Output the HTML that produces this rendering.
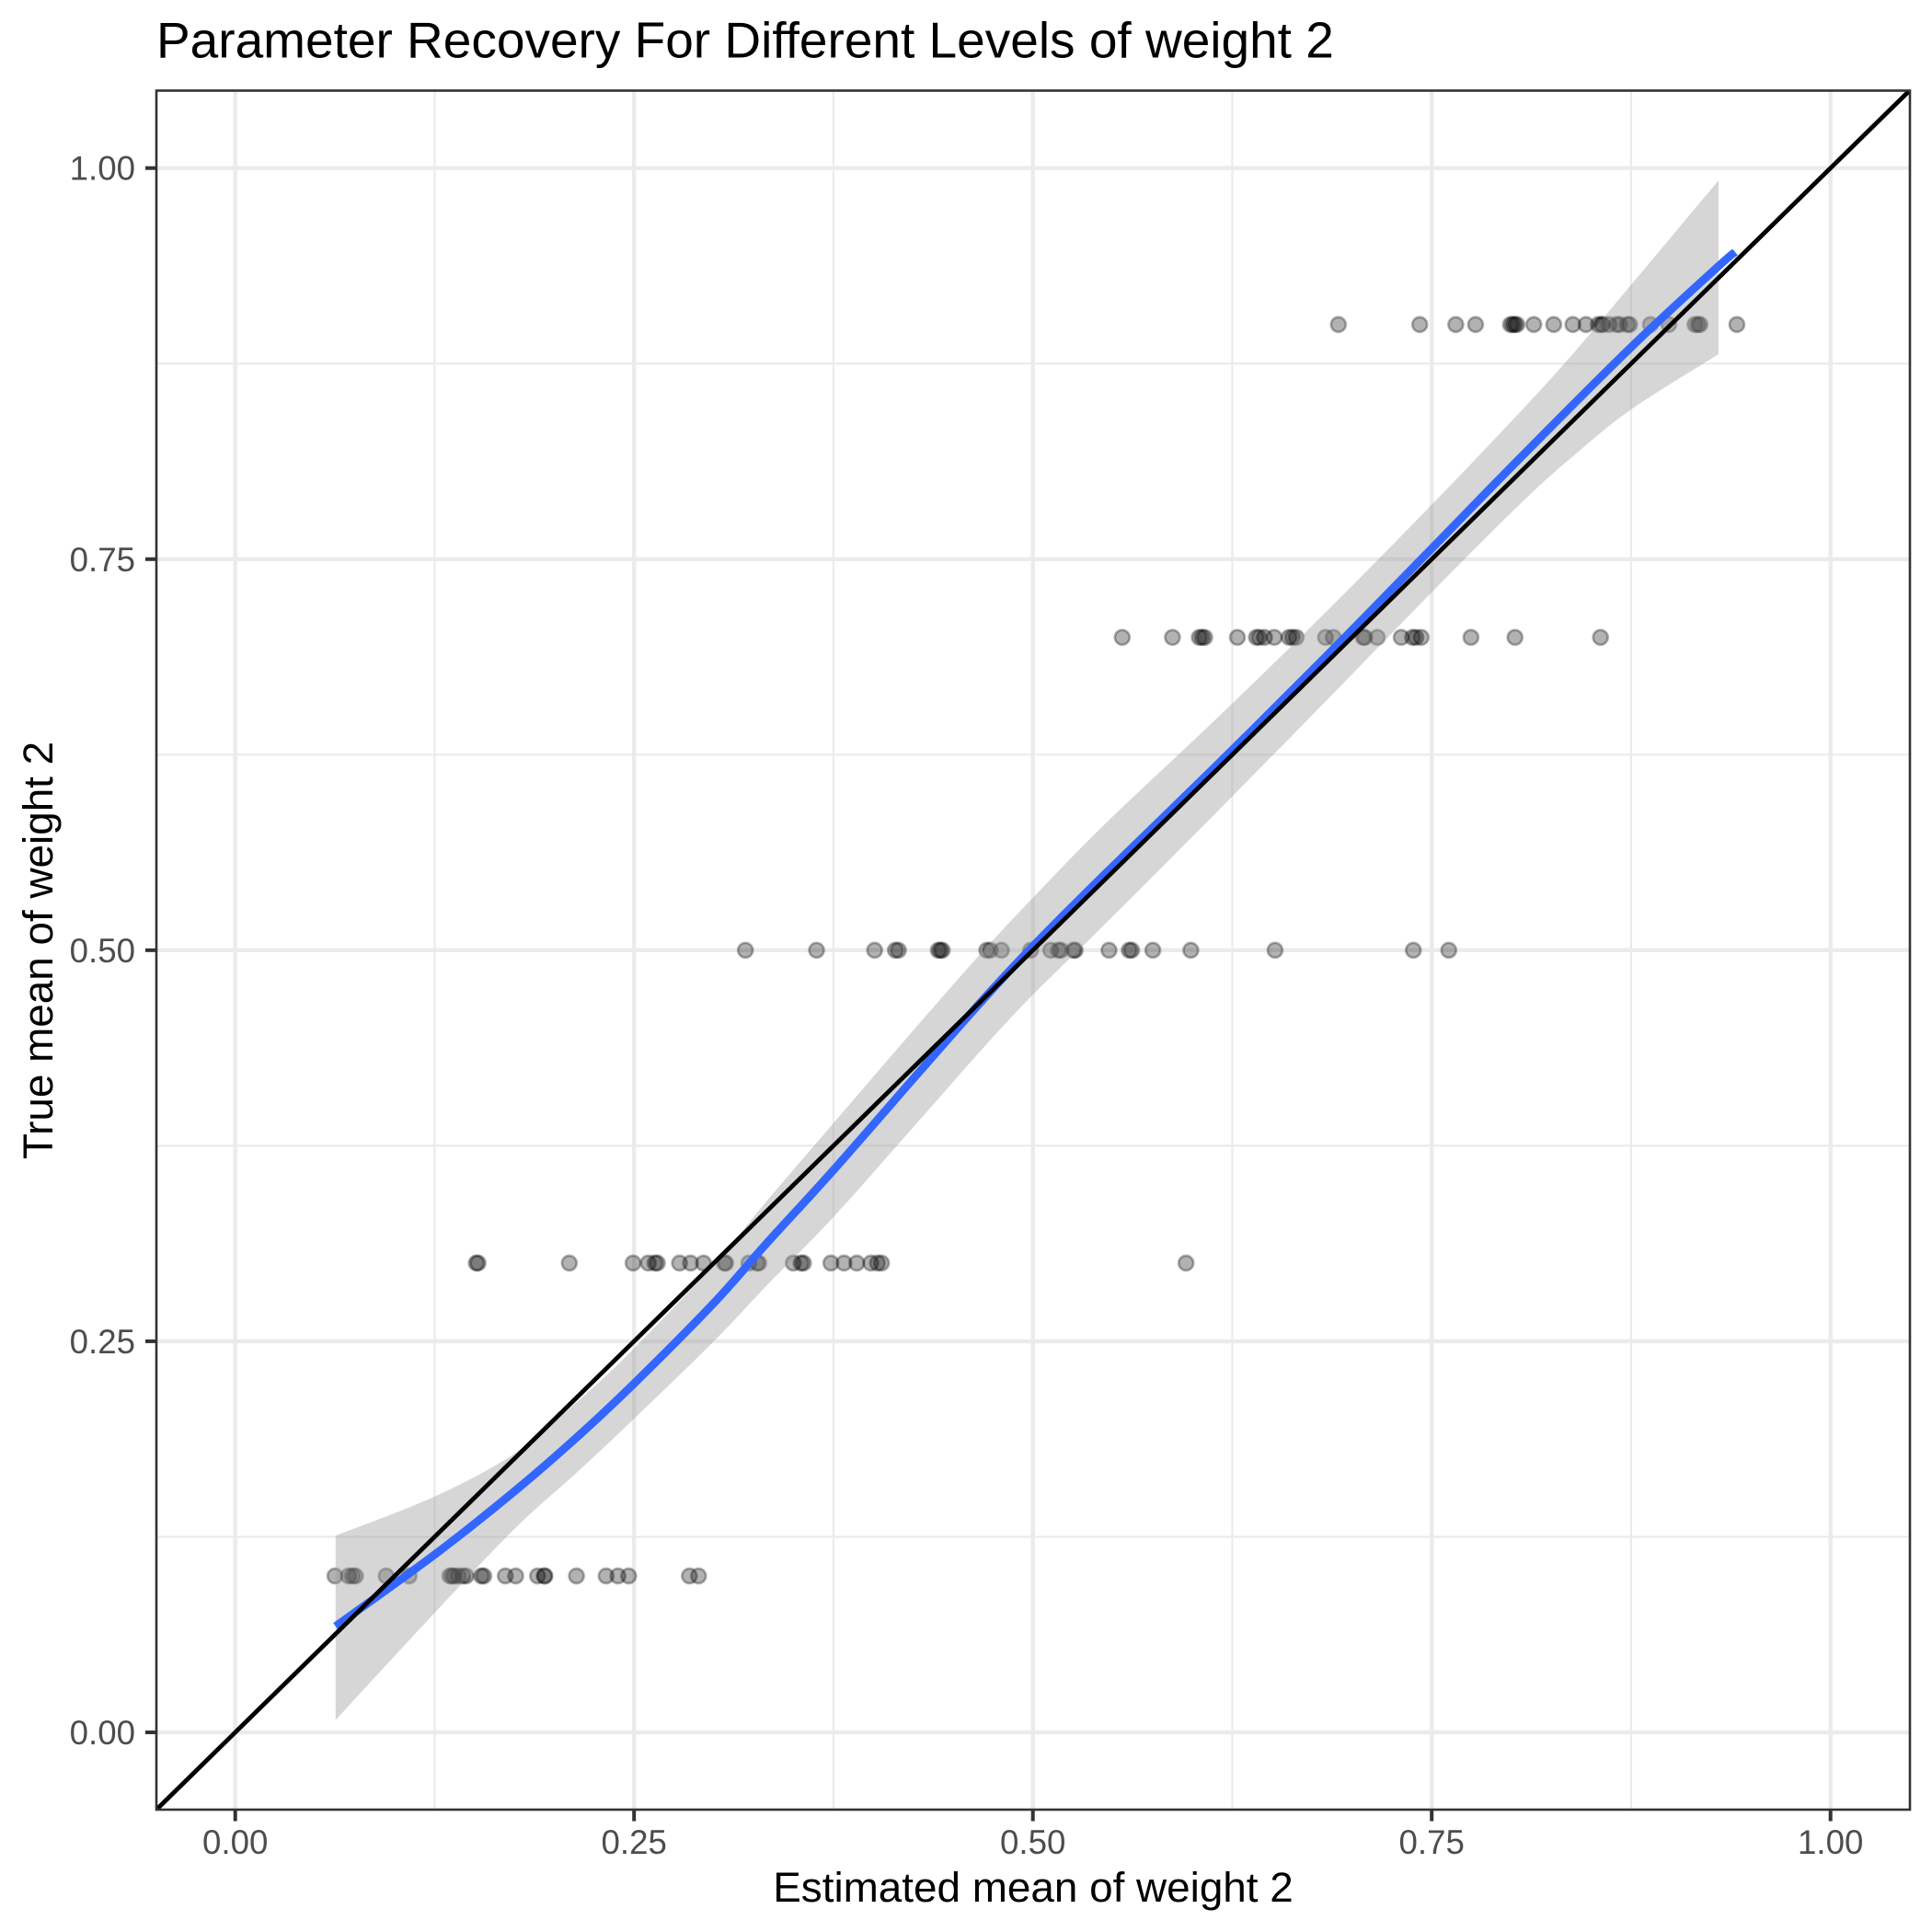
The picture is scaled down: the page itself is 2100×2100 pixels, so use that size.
<!DOCTYPE html>
<html>
<head>
<meta charset="utf-8">
<title>Parameter Recovery For Different Levels of weight 2</title>
<style>
html,body{margin:0;padding:0;background:#fff;}
svg{display:block;}
text{font-family:"Liberation Sans",Arial,sans-serif;}
</style>
</head>
<body>
<svg id="chart" xmlns="http://www.w3.org/2000/svg" width="2100" height="2100" viewBox="0 0 2100 2100">
  <defs><clipPath id="panel-clip"><rect x="170" y="98" width="1906" height="1869"/></clipPath></defs>
  <rect x="0" y="0" width="2100" height="2100" fill="#fff"/>
  <g id="grid"></g>
  <g id="points" clip-path="url(#panel-clip)"></g>
  <g id="smooth" clip-path="url(#panel-clip)"></g>
  <g id="refline" clip-path="url(#panel-clip)"></g>
  <rect x="170" y="98.5" width="1906" height="1868.5" fill="none" stroke="#333333" stroke-width="2.6"/>
  <g id="axes"></g>
  <text x="170" y="62.5" font-size="55" fill="#000">Parameter Recovery For Different Levels of weight 2</text>
  <text x="1123" y="2067" font-size="45.83" fill="#000" text-anchor="middle">Estimated mean of weight 2</text>
  <text transform="translate(57,1033) rotate(-90)" font-size="45.83" fill="#000" text-anchor="middle">True mean of weight 2</text>
</svg>
<script>
const xTickValues = [0, 0.25, 0.5, 0.75, 1];
const xTickLabels = ["0.00", "0.25", "0.50", "0.75", "1.00"];
const yTickValues = [0, 0.25, 0.5, 0.75, 1];
const yTickLabels = ["0.00", "0.25", "0.50", "0.75", "1.00"];
const minorBreaks = [0.125, 0.375, 0.625, 0.875];

const levelTrue = [0.1, 0.3, 0.5, 0.7, 0.9];
const estimates01 = [.0625,.071,.0735,.0754,.0946,.109,.1345,.136,.1373,.1398,.1427,.1447,.1543,.1558,.1693,.1758,.1895,.1937,.1941,.2139,.2325,.2399,.2466,.2847,.2904];
const estimates03 = [.1511,.1522,.2094,.2494,.2589,.2631,.2646,.2785,.2854,.2935,.3066,.3075,.322,.3271,.3282,.3498,.3547,.3562,.3734,.3816,.3896,.3984,.4026,.4051,.596];
const estimates05 = [.3198,.3644,.4008,.4138,.4157,.4407,.442,.4432,.4711,.4733,.4803,.4986,.5112,.516,.5176,.5255,.5265,.5477,.5604,.5619,.5752,.599,.6518,.7385,.7607];
const estimates07 = [.556,.5875,.6043,.6061,.6077,.6282,.6401,.6419,.6452,.6513,.6606,.6628,.6651,.6834,.6883,.707,.7081,.7159,.7309,.738,.7401,.7434,.7746,.8022,.8558];
const estimates09 = [.6915,.7425,.7651,.7775,.7994,.8009,.8021,.8034,.814,.8265,.8385,.8467,.8544,.8563,.8573,.8611,.866,.8678,.8727,.8741,.8871,.8986,.915,.9169,.9182,.9413];

const ribbonX = [.0629,.1255,.1755,.2139,.25,.3004,.3331,.3754,.4292,.4677,.5,.5448,.6138,.682,.7504,.8073,.84,.8755,.9298];
const ribbonHigh = [.1257,.151,.1785,.2109,.2455,.2994,.3396,.3899,.4537,.4982,.5335,.5803,.6468,.7145,.7852,.8461,.883,.926,.9921];
const ribbonLow = [.0079,.077,.1305,.1659,.2005,.2504,.2856,.3299,.3917,.4362,.4715,.5163,.5868,.6575,.7292,.7871,.817,.846,.881];
const smoothX = [.0629,.1255,.1755,.2139,.25,.3004,.3331,.3754,.4292,.4677,.5,.5448,.6138,.682,.7504,.8073,.8755,.9298,.9402];
const smoothY = [.0678,.114,.1545,.1884,.223,.2749,.3126,.3599,.4227,.4672,.5025,.5483,.6168,.686,.7572,.8166,.886,.9373,.9463];
const refLine = [-0.05, 1.05];

const NS = "http://www.w3.org/2000/svg";
function xScale(v){ return 255.7 + 1734 * v; }
function yScale(v){ return 1883 - 1700.3 * v; }
function mk(tag, parent){ const el = document.createElementNS(NS, tag); parent.appendChild(el); return el; }
function curve(pts, start){
  let d = (start ? "M" : "L") + pts[0][0].toFixed(2) + " " + pts[0][1].toFixed(2);
  for (let i = 0; i < pts.length - 1; i++){
    const p0 = pts[Math.max(i - 1, 0)], p1 = pts[i], p2 = pts[i + 1], p3 = pts[Math.min(i + 2, pts.length - 1)];
    const c1x = p1[0] + (p2[0] - p0[0]) / 6, c1y = p1[1] + (p2[1] - p0[1]) / 6;
    const c2x = p2[0] - (p3[0] - p1[0]) / 6, c2y = p2[1] - (p3[1] - p1[1]) / 6;
    d += "C" + c1x.toFixed(2) + " " + c1y.toFixed(2) + " " + c2x.toFixed(2) + " " + c2y.toFixed(2) + " " + p2[0].toFixed(2) + " " + p2[1].toFixed(2);
  }
  return d;
}

const grid = document.getElementById("grid");
function gridLine(x1, y1, x2, y2, w, name){
  const l = mk("line", grid);
  l.setAttribute("x1", x1); l.setAttribute("y1", y1); l.setAttribute("x2", x2); l.setAttribute("y2", y2);
  l.setAttribute("stroke", "#ebebeb"); l.setAttribute("stroke-width", w);
  
  
}
minorBreaks.forEach(function(v){
  gridLine(xScale(v), 98, xScale(v), 1967, 2.2, "minor-gridline-x");
  gridLine(170, yScale(v), 2076, yScale(v), 2.2, "minor-gridline-y");
});
xTickValues.forEach(function(v){ gridLine(xScale(v), 98, xScale(v), 1967, 4.4, "major-gridline-x"); });
yTickValues.forEach(function(v){ gridLine(170, yScale(v), 2076, yScale(v), 4.4, "major-gridline-y"); });

const pointsG = document.getElementById("points");
[estimates01, estimates03, estimates05, estimates07, estimates09].forEach(function(series, k){
  series.forEach(function(v){
    const c = mk("circle", pointsG);
    c.setAttribute("cx", xScale(v).toFixed(2));
    c.setAttribute("cy", yScale(levelTrue[k]).toFixed(2));
    c.setAttribute("r", 8);
    c.setAttribute("fill", "#000"); c.setAttribute("fill-opacity", 0.3);
    c.setAttribute("stroke", "#000"); c.setAttribute("stroke-opacity", 0.3); c.setAttribute("stroke-width", 2.7);
    
    
  });
});

const smoothG = document.getElementById("smooth");
const hiPts = ribbonX.map(function(v, i){ return [xScale(v), yScale(ribbonHigh[i])]; });
const loPts = ribbonX.map(function(v, i){ return [xScale(v), yScale(ribbonLow[i])]; }).reverse();
const ribbon = mk("path", smoothG);
ribbon.setAttribute("d", curve(hiPts, true) + curve(loPts, false) + "Z");
ribbon.setAttribute("fill", "#999999"); ribbon.setAttribute("fill-opacity", 0.4);


const fit = mk("path", smoothG);
fit.setAttribute("d", curve(smoothX.map(function(v, i){ return [xScale(v), yScale(smoothY[i])]; }), true));
fit.setAttribute("fill", "none"); fit.setAttribute("stroke", "#3366FF"); fit.setAttribute("stroke-width", 8.8);



const refG = document.getElementById("refline");
const ref = mk("line", refG);
ref.setAttribute("x1", xScale(refLine[0])); ref.setAttribute("y1", yScale(refLine[0]));
ref.setAttribute("x2", xScale(refLine[1])); ref.setAttribute("y2", yScale(refLine[1]));
ref.setAttribute("stroke", "#000"); ref.setAttribute("stroke-width", 4.8);



const axes = document.getElementById("axes");
xTickValues.forEach(function(v, i){
  const t = mk("line", axes);
  t.setAttribute("x1", xScale(v)); t.setAttribute("x2", xScale(v)); t.setAttribute("y1", 1967); t.setAttribute("y2", 1979.5);
  t.setAttribute("stroke", "#333333"); t.setAttribute("stroke-width", 4);
  
  
  const l = mk("text", axes);
  l.setAttribute("x", xScale(v)); l.setAttribute("y", 2015);
  l.setAttribute("font-size", 36.67); l.setAttribute("fill", "#4D4D4D"); l.setAttribute("text-anchor", "middle");
  l.textContent = xTickLabels[i];
  
  
});
yTickValues.forEach(function(v, i){
  const t = mk("line", axes);
  t.setAttribute("x1", 158); t.setAttribute("x2", 170); t.setAttribute("y1", yScale(v)); t.setAttribute("y2", yScale(v));
  t.setAttribute("stroke", "#333333"); t.setAttribute("stroke-width", 4);
  
  
  const l = mk("text", axes);
  l.setAttribute("x", 147); l.setAttribute("y", yScale(v) + 13);
  l.setAttribute("font-size", 36.67); l.setAttribute("fill", "#4D4D4D"); l.setAttribute("text-anchor", "end");
  l.textContent = yTickLabels[i];
  
  
});
</script>
</body>
</html>
